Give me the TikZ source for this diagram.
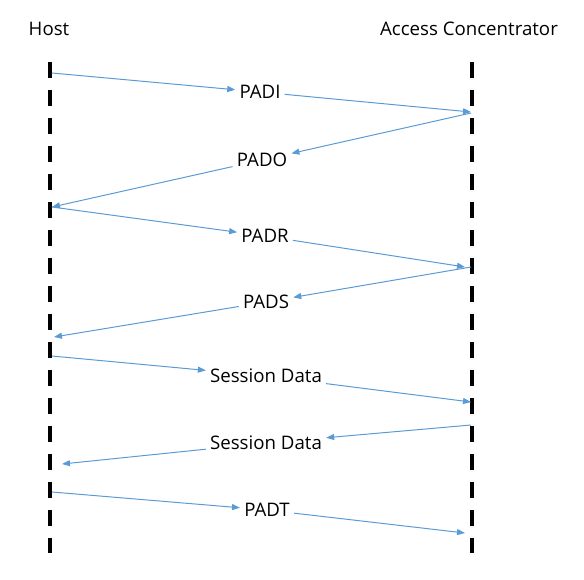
\documentclass[tikz,border=0pt]{standalone}
\usepackage{fontspec}
\setmainfont{Open Sans}
\usepackage{xcolor}
\usetikzlibrary{arrows.meta}
\definecolor{msgblue}{RGB}{91,155,213}

\begin{document}
\begin{tikzpicture}[x=0.75pt,y=0.75pt,yscale=-1,xscale=1,
  lifeline/.style={line width=3pt,dash pattern=on 12pt off 9pt},
  msg/.style={draw=msgblue,line width=0.75pt,-{Triangle[length=6pt,width=4.5pt]}},
  lbl/.style={inner sep=3pt,font=\fontsize{14}{16}\selectfont}]
\useasboundingbox (0,0) rectangle (584,579);

% Text Node
\node [lbl] (host) at (49,29) {Host};
% Text Node
\node [lbl] (ac) at (469,29) {Access Concentrator};

% lifelines
\draw [lifeline] (50,62) -- (50,553);
\draw [lifeline] (472,62) -- (472,553);

% points on the lifelines
\coordinate (h1) at (52,73);   \coordinate (a1) at (471,112);
\coordinate (a2) at (471,113); \coordinate (h2) at (52,207);
\coordinate (h3) at (52,207);  \coordinate (a3) at (465,267);
\coordinate (a4) at (471,267); \coordinate (h4) at (54,337);
\coordinate (h5) at (52,356);  \coordinate (a5) at (471,402);
\coordinate (a6) at (471,425); \coordinate (h6) at (62,464);
\coordinate (h7) at (52,492);  \coordinate (a7) at (465,533);

% Text Node
\node [lbl] (padi) at (260,92) {PADI};
\node [lbl] (pado) at (262,160) {PADO};
\node [lbl] (padr) at (265,236) {PADR};
\node [lbl] (pads) at (266,302) {PADS};
\node [lbl] (sd1) at (266,376) {Session Data};
\node [lbl] (sd2) at (266,443) {Session Data};
\node [lbl] (padt) at (267,510) {PADT};

% messages
\draw [msg] (h1) -- (padi);  \draw [msg] (padi) -- (a1);
\draw [msg] (a2) -- (pado);  \draw [msg] (pado) -- (h2);
\draw [msg] (h3) -- (padr);  \draw [msg] (padr) -- (a3);
\draw [msg] (a4) -- (pads);  \draw [msg] (pads) -- (h4);
\draw [msg] (h5) -- (sd1);   \draw [msg] (sd1) -- (a5);
\draw [msg] (a6) -- (sd2);   \draw [msg] (sd2) -- (h6);
\draw [msg] (h7) -- (padt);  \draw [msg] (padt) -- (a7);

\end{tikzpicture}
\end{document}
